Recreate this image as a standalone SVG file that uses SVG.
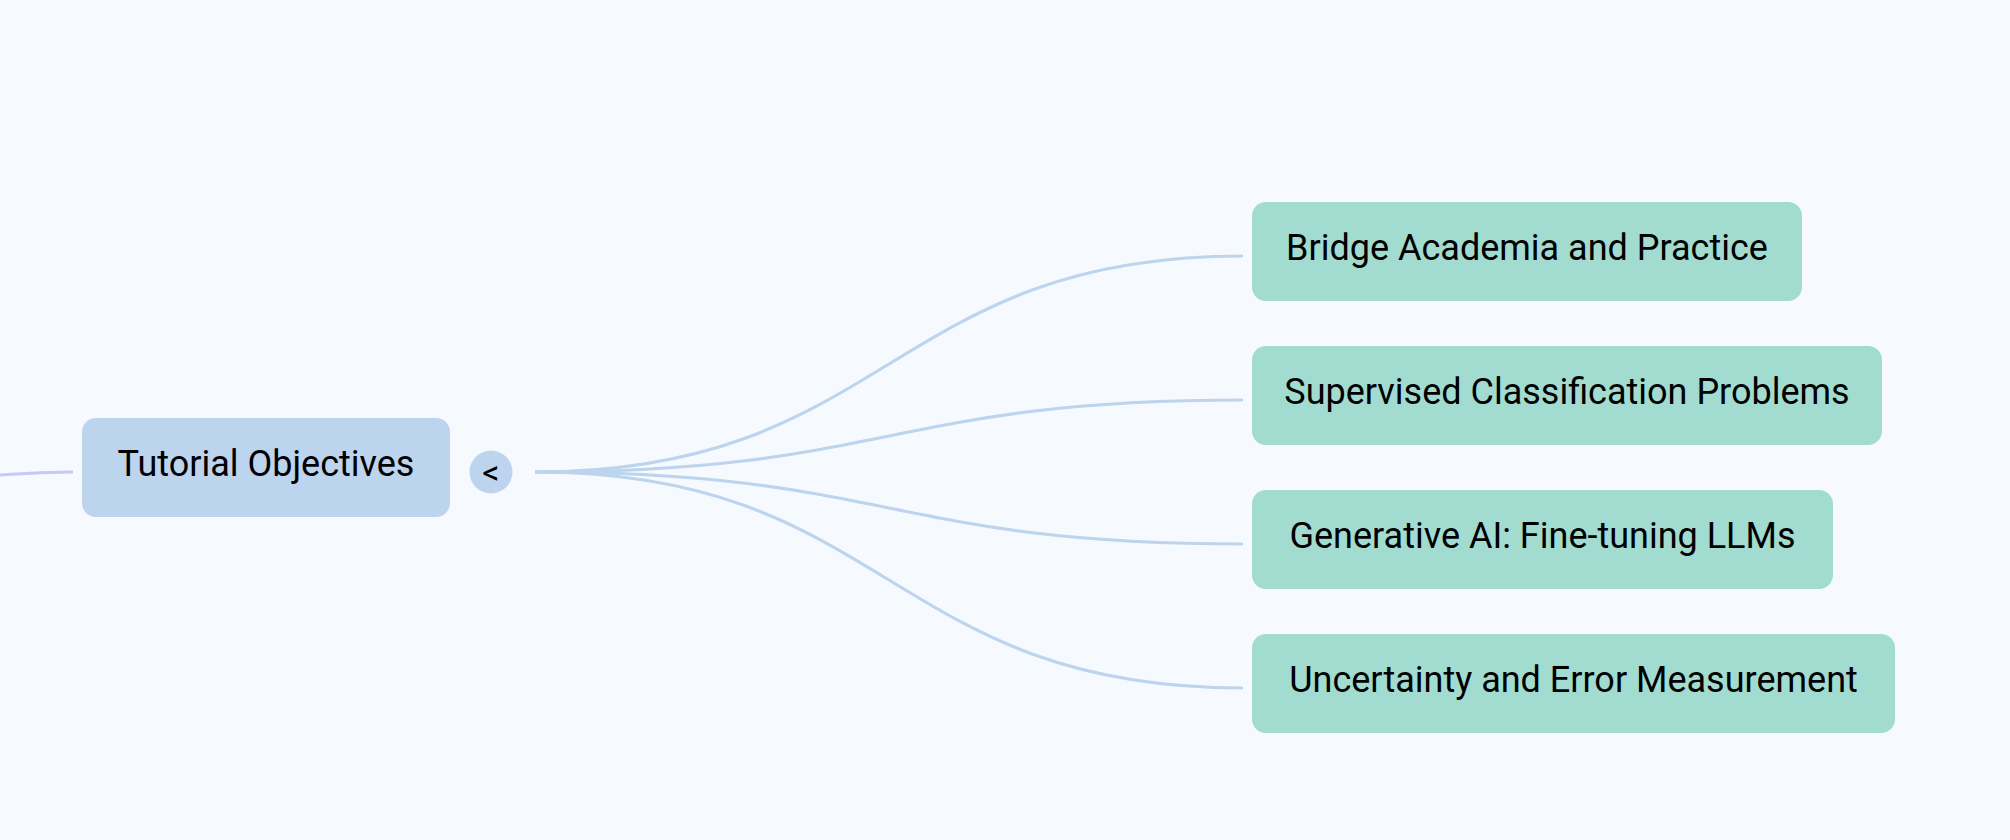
<svg xmlns="http://www.w3.org/2000/svg" width="2010" height="840" viewBox="0 0 2010 840">
<style>
.bg{fill:#f6faff}
.root rect{fill:#bcd4ee}
.leaf rect{fill:#a2dcd1}
.lbl{font-family:Roboto,"Liberation Sans",sans-serif;font-size:36px;fill:#000;text-anchor:middle}
.conn path{fill:none;stroke:#bcd4ee;stroke-width:3.2;stroke-linecap:butt}
</style>
<rect class="bg" x="0" y="0" width="2010" height="840"/>
<g id="connectors" class="conn">
<path d="M0,475 C30,473 50,472 73,472" style="stroke:#c5c8f8"/>
<path d="M535,472 C889,472 889,256 1243,256"/>
<path d="M535,472 C889,472 889,400 1243,400"/>
<path d="M535,472 C889,472 889,544 1243,544"/>
<path d="M535,472 C889,472 889,688 1243,688"/>
</g>
<g id="tutorial-objectives" class="root">
<rect x="82" y="418" width="368" height="99" rx="14"/>
<text class="lbl" x="266" y="476">Tutorial Objectives</text>
</g>
<g id="collapse-toggle" class="root">
<circle cx="491" cy="472" r="21.5" fill="#bcd4ee"/>
<text x="491" y="484" style="font-family:Roboto,'Liberation Sans',sans-serif;font-size:34px;fill:#000;text-anchor:middle">&lt;</text>
</g>
<g id="bridge-academia" class="leaf">
<rect x="1252" y="202" width="550" height="99" rx="14"/>
<text class="lbl" x="1527" y="260">Bridge Academia and Practice</text>
</g>
<g id="supervised-classification" class="leaf">
<rect x="1252" y="346" width="630" height="99" rx="14"/>
<text class="lbl" x="1567" y="404">Supervised Classification Problems</text>
</g>
<g id="generative-ai" class="leaf">
<rect x="1252" y="490" width="581" height="99" rx="14"/>
<text class="lbl" x="1542.5" y="548">Generative AI: Fine-tuning LLMs</text>
</g>
<g id="uncertainty" class="leaf">
<rect x="1252" y="634" width="643" height="99" rx="14"/>
<text class="lbl" x="1573.5" y="692">Uncertainty and Error Measurement</text>
</g>
</svg>
